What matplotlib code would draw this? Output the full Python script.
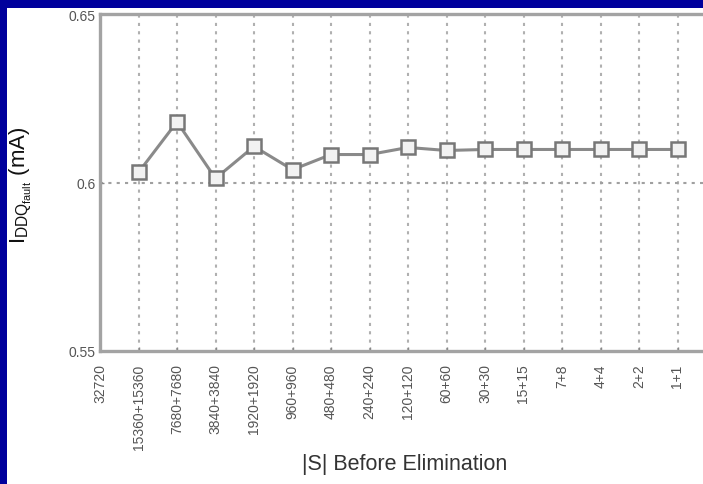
import matplotlib
matplotlib.use("Agg")
import matplotlib.pyplot as plt
from matplotlib.patches import Rectangle

categories = ['32720', '15360+15360', '7680+7680', '3840+3840', '1920+1920',
              '960+960', '480+480', '240+240', '120+120', '60+60', '30+30',
              '15+15', '7+8', '4+4', '2+2', '1+1']
# values for categories 1..15 (no marker at the first category)
values = [0.6030, 0.6180, 0.6012, 0.6107, 0.6038, 0.6083, 0.6083, 0.6104,
          0.6095, 0.6098, 0.6098, 0.6098, 0.6098, 0.6098, 0.6098]
yticks = [0.55, 0.6, 0.65]
ytick_labels = ['0.55', '0.6', '0.65']

plt.rcParams['font.family'] = ['Liberation Sans', 'DejaVu Sans']
plt.rcParams['mathtext.fontset'] = 'custom'
plt.rcParams['mathtext.rm'] = 'Liberation Sans'
plt.rcParams['mathtext.it'] = 'Liberation Sans'

W, H = 703, 485
fig = plt.figure(figsize=(W / 100, H / 100), dpi=100)
fig.patch.set_facecolor('#00009c')
fig.patches.append(Rectangle((7 / W, 0), 1 - 7 / W, 1 - 9 / H,
                             transform=fig.transFigure, facecolor='white',
                             edgecolor='none', zorder=-10))

ax = fig.add_axes([100 / W, 1 - 352 / H, (W - 100) / W, (352 - 15) / H])
ax.set_zorder(1)
ax.set_facecolor('white')

x = list(range(1, len(categories)))
ax.plot(x, values, color='#8a8a8a', lw=2.2, marker='s', markersize=10.5,
        markerfacecolor='#f2f2f2', markeredgecolor='#777777',
        markeredgewidth=1.8, zorder=3)

ax.set_xlim(0, (W - 100) / 38.5)
ax.set_ylim(0.55, 0.65)
ax.set_xticks(range(len(categories)))
ax.set_xticklabels(categories, rotation=90, fontsize=10, color='#555555')
ax.set_yticks(yticks)
ax.set_yticklabels(ytick_labels, fontsize=10, color='#555555')
ax.tick_params(axis='both', direction='in', length=3, width=1, color='#888888', pad=4)
ax.tick_params(axis='x', pad=9)
ax.tick_params(axis='y', pad=3)

for xi in range(1, len(categories)):
    ax.axvline(xi, color='#b0b0b0', lw=1.5, ls=(0, (1.5, 2.5)), zorder=1)
ax.axhline(0.6, color='#a0a0a0', lw=1.5, ls=(0, (1.5, 2.5)), zorder=1)

for side in ['left', 'bottom', 'top']:
    ax.spines[side].set_color('#a3a3a3')
    ax.spines[side].set_linewidth(2.4)
ax.spines['right'].set_visible(False)

fig.text(405 / W, 1 - 465 / H, '|S| Before Elimination', fontsize=15.5,
         color='#333333', ha='center', va='center')
fig.text(21 / W, 1 - 185 / H, r'$I_{DDQ_{fault}}$ (mA)', fontsize=16,
         color='#111111', ha='center', va='center', rotation=90)

fig.savefig('out.png', dpi=100, facecolor=fig.get_facecolor())
